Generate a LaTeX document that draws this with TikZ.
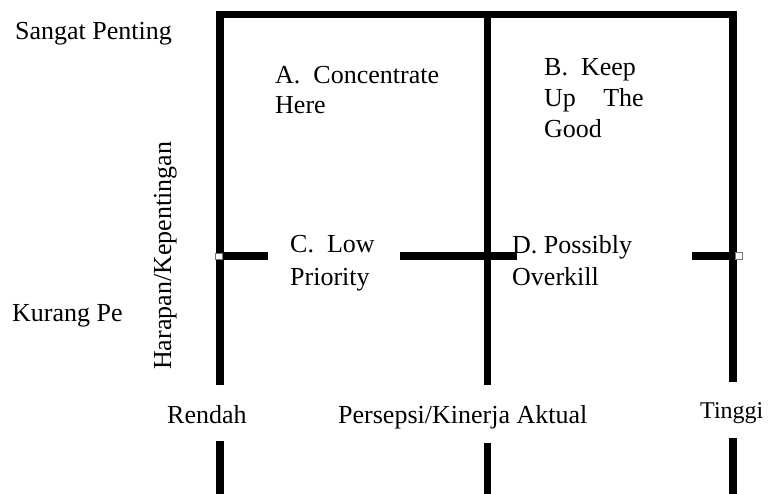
\documentclass[tikz,border=0pt]{standalone}
\usepackage{fontspec}
\setmainfont{Liberation Serif}
\begin{document}
\begin{tikzpicture}[x=1pt,y=-1pt,
  axis/.style={line width=7.6pt,black},
  lbl/.style={anchor=base west,inner sep=0pt,font=\fontsize{26}{31}\selectfont},
  lblsmall/.style={anchor=base west,inner sep=0pt,font=\fontsize{24}{29}\selectfont},
  handle/.style={draw=black!55,fill=white,line width=0.8pt,minimum size=6.5pt,inner sep=0pt}]
\useasboundingbox (0,0) rectangle (768,494);

% frame corners and grid points
\coordinate (tl) at (220,14.5);
\coordinate (tm) at (487.5,14.5);
\coordinate (tr) at (733,14.5);
\coordinate (lu) at (220,385);
\coordinate (mu) at (487.5,385);
\coordinate (ru) at (733,382);
\coordinate (ll) at (220,441);
\coordinate (ml) at (487.5,443);
\coordinate (rl) at (733,438);
\coordinate (lb) at (220,496);
\coordinate (mb) at (487.5,496);
\coordinate (rb) at (733,496);
\coordinate (hl) at (220,256);
\coordinate (h1) at (268,256);
\coordinate (h2) at (400,256);
\coordinate (h3) at (517,256);
\coordinate (h4) at (692,256);
\coordinate (hr) at (733,256);

% outer frame and middle divider
\draw[axis,line join=miter] (lu) -- (tl) -- (tr) -- (ru);
\draw[axis] (tm) -- (mu);
\draw[axis] (ll) -- (lb);
\draw[axis] (ml) -- (mb);
\draw[axis] (rl) -- (rb);

% horizontal divider, interrupted by the quadrant labels
\draw[axis] (hl) -- (h1);
\draw[axis] (h2) -- (h3);
\draw[axis] (h4) -- (hr);

% small handles on the divider ends
\node[handle] (hdlL) at (218.7,256.5) {};
\node[handle] (hdlR) at (739,256) {};

% axis labels
\node[lbl] (vhigh) at (15,40) {Sangat Penting};
\node[lbl] (vlow) at (12,321) {Kurang Pe};
\node[lbl,rotate=90] (yaxis) at (171,370) {Harapan/Kepentingan};
\node[lbl] (xlow) at (167,423) {Rendah};
\node[lbl] (xaxis) at (338,423) {Persepsi/Kinerja Aktual};
\node[lblsmall] (xhigh) at (700,418) {Tinggi};

% quadrant labels
\node[lbl] (qa1) at (275,84) {A.\hspace{0.5em}Concentrate};
\node[lbl] (qa2) at (275,114) {Here};
\node[lbl] (qb1) at (544,76) {B.\hspace{0.5em}Keep};
\node[lbl] (qb2) at (544,107) {Up\hspace{1.05em}The};
\node[lbl] (qb3) at (544,138) {Good};
\node[lbl] (qc1) at (290,253) {C.\hspace{0.5em}Low};
\node[lbl] (qc2) at (290,285) {Priority};
\node[lbl] (qd1) at (512,254) {D. Possibly};
\node[lbl] (qd2) at (512,286) {Overkill};
\end{tikzpicture}
\end{document}
